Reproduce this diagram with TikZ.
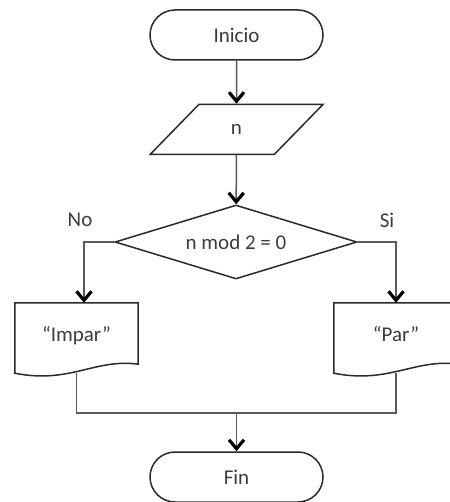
\documentclass[tikz,border=0pt]{standalone}
\usepackage{fontspec}
\setmainfont{Carlito}
\usetikzlibrary{arrows.meta,shapes.geometric,backgrounds}
\definecolor{outl}{HTML}{2A2A2A}
\definecolor{conncol}{HTML}{5A5A5A}
\definecolor{txt}{HTML}{3C3C3C}
\tikzset{
  txtstyle/.style={font=\fontsize{21}{24}\selectfont, text=txt},
  shapeline/.style={draw=outl, line width=1.5pt, fill=white},
  terminal/.style={shapeline, txtstyle, rectangle, rounded corners=25pt, minimum width=173pt, minimum height=50pt, inner sep=0pt},
  iobox/.style={shapeline, txtstyle, trapezium, trapezium left angle=55, trapezium right angle=125, trapezium stretches=true, minimum width=173pt, minimum height=50pt, inner sep=0pt},
  decision/.style={shapeline, txtstyle, diamond, shape aspect=3.3, minimum width=242pt, minimum height=74pt, inner sep=0pt},
  docbox/.style={txtstyle, rectangle, minimum height=70pt, inner sep=0pt, text depth=9pt},
  conn/.style={draw=conncol, line width=1.5pt},
  arr/.style={conn, -{Straight Barb[length=9pt,width=15pt,line width=3.2pt,color=black]}},
  lbl/.style={txtstyle}
}
\begin{document}
\begin{tikzpicture}[x=1pt,y=-1pt]
\useasboundingbox (0,0) rectangle (449,502);
\node[terminal] (inicio) at (236.5,35) {Inicio};
\node[iobox] (n) at (236.5,129.5) {n};
\node[decision] (cond) at (236,242) {n mod 2 = 0};
\node[docbox, minimum width=123pt] (impar) at (76.5,338) {“Impar”};
\node[docbox, minimum width=124pt] (par) at (396,338) {“Par”};
\node[terminal] (fin) at (236.5,477) {Fin};
\coordinate (merge) at (236.5,413);
\node[lbl] (no) at (80,220) {No};
\node[lbl] (si) at (387,220) {Si};
\begin{scope}[on background layer]
% connectors
\draw[arr] (inicio) -- (n);
\draw[arr] (n) -- (cond);
\draw[arr] (cond.west) -| ([xshift=7.5pt]impar.north);
\draw[arr] (cond.east) -| (par.north);
\draw[conn] (impar.south) |- (merge) -| (par.south);
\draw[arr] (merge) -- (fin);
% document outlines
\draw[shapeline] (impar.north west) -- (impar.north east) -- ([yshift=9pt]impar.south east)
  .. controls +(-43,-6) and +(55,11) .. (impar.south west) -- cycle;
\draw[shapeline] (par.north west) -- (par.north east) -- ([yshift=9pt]par.south east)
  .. controls +(-43,-6) and +(55,11) .. (par.south west) -- cycle;
\end{scope}
\end{tikzpicture}
\end{document}
